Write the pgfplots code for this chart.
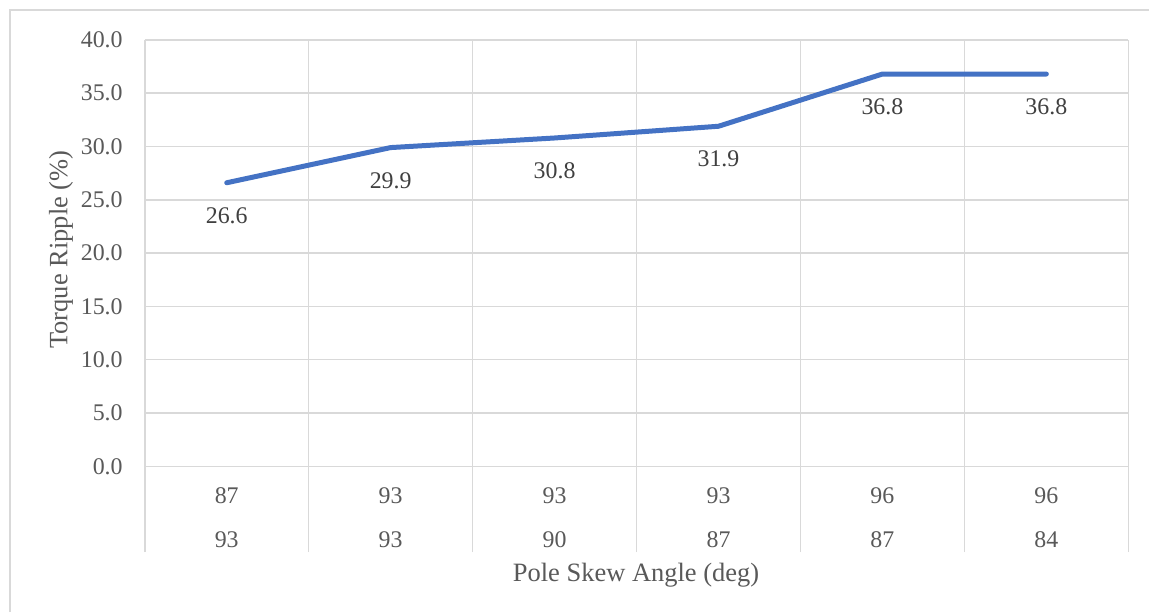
\documentclass[border=0pt]{standalone}
\usepackage{pgfplots}
\pgfplotsset{compat=1.18}
\usepackage{fontspec}
\setmainfont{Liberation Serif}
\definecolor{lineblue}{HTML}{4472C4}
\definecolor{gridgray}{HTML}{D9D9D9}
\definecolor{txtgray}{HTML}{595959}
\definecolor{lblgray}{HTML}{404040}
\begin{document}
\begin{tikzpicture}[x=1bp,y=1bp]
\path[fill=white] (0,0) rectangle (1150,612);
\draw[gridgray, line width=1.5bp] (10,-1) -- (10,602) -- (1151,602);
\begin{axis}[at={(145bp,145bp)}, anchor=south west, scale only axis,
  width=985bp, height=427bp,
  xmin=0, xmax=6, ymin=0, ymax=40,
  axis line style={draw=none},
  xtick pos=bottom, ytick pos=left,
  ytick={0,5,...,40}, ymajorgrids,
  grid style={gridgray, line width=1.5bp},
  ytick style={draw=none},
  yticklabel style={font=\fontsize{24}{28}\selectfont, text=txtgray, anchor=east, inner sep=0pt, xshift=-22bp},
  /pgf/number format/.cd, fixed, fixed zerofill, precision=1, assume math mode=true, /pgfplots/.cd,
  xtick={0.5,1.5,2.5,3.5,4.5,5.5},
  xticklabels={{87\\93},{93\\93},{93\\90},{93\\87},{96\\87},{96\\84}},
  xticklabel style={font=\fontsize{24}{44}\selectfont, text=txtgray, align=center, anchor=north, inner sep=0pt, yshift=-21bp},
  xtick style={draw=none},
  extra x ticks={0,1,2,3,4,5,6},
  extra x tick labels={{},{},{},{},{},{},{}},
  extra x tick style={grid=major, tick align=outside, xtick pos=bottom, major tick length=86bp, xtick style={draw=gridgray, line width=1.5bp}},
  clip=false,
]
\addplot[lineblue, line width=5bp, line cap=round, line join=round, mark=none,
  nodes near coords, point meta=explicit symbolic,
  nodes near coords style={font=\fontsize{24}{28}\selectfont, text=lblgray, anchor=center, yshift=-33bp}]
  table[meta=lab] {
x y lab
0.5 26.6 26.6
1.5 29.9 29.9
2.5 30.8 30.8
3.5 31.9 31.9
4.5 36.8 36.8
5.5 36.8 36.8
};
\end{axis}
\node[font=\fontsize{26.6}{30}\selectfont, text=txtgray] at (637,36) {Pole Skew Angle (deg)};
\node[font=\fontsize{26.6}{30}\selectfont, text=txtgray, rotate=90] at (61,362) {Torque Ripple (\%)};
\end{tikzpicture}
\end{document}
